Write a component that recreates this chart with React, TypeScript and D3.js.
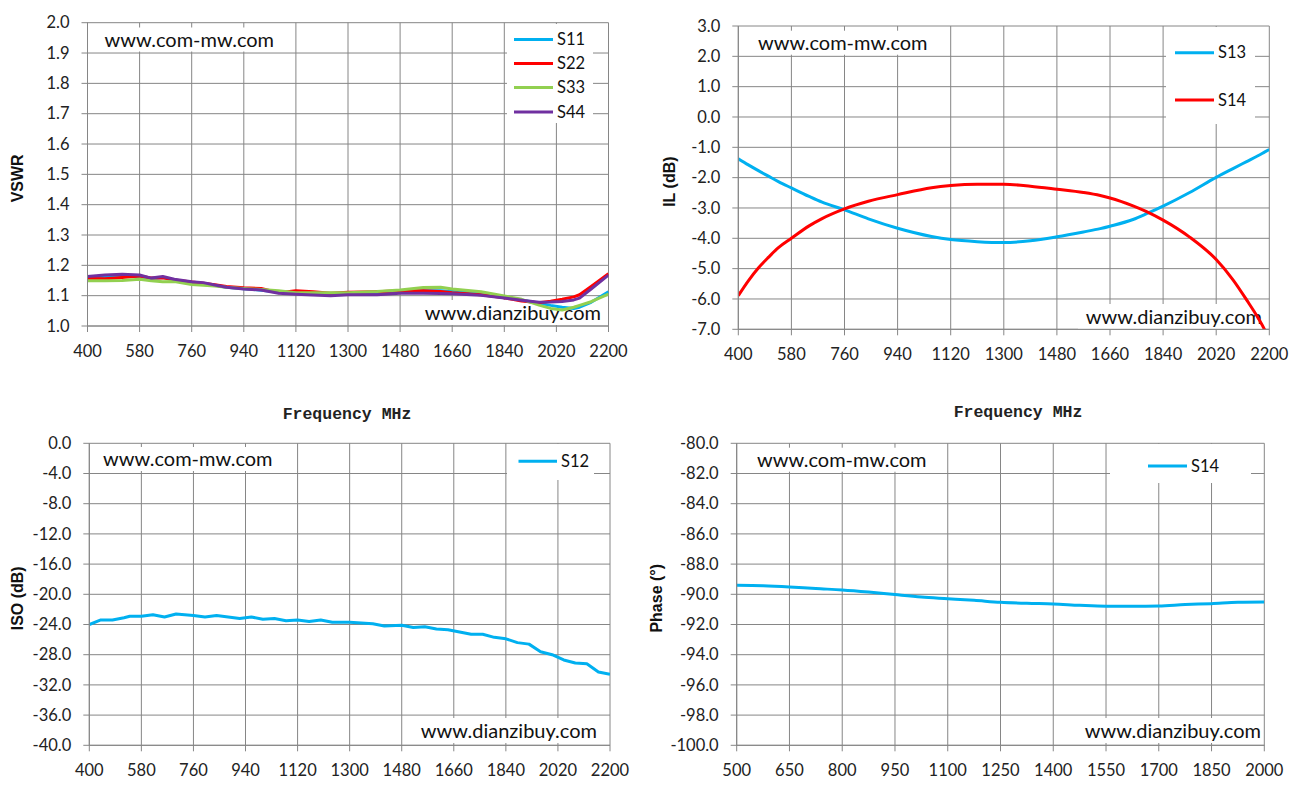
import * as d3 from 'd3'

// ---- data ----
const vswrFreq = [400, 460, 520, 580, 620, 660, 700, 760, 800, 840, 880, 940, 1000, 1060, 1120, 1180, 1240, 1300, 1400, 1480, 1560, 1620, 1660, 1760, 1840, 1900, 1960, 2000, 2040, 2080, 2100, 2140, 2200]
const s11 = [1.160, 1.162, 1.164, 1.163, 1.156, 1.160, 1.152, 1.143, 1.140, 1.134, 1.128, 1.123, 1.118, 1.112, 1.110, 1.108, 1.106, 1.108, 1.110, 1.114, 1.116, 1.116, 1.114, 1.106, 1.096, 1.086, 1.075, 1.068, 1.062, 1.058, 1.062, 1.078, 1.113]
const s22 = [1.157, 1.156, 1.160, 1.165, 1.158, 1.159, 1.152, 1.145, 1.141, 1.136, 1.130, 1.126, 1.124, 1.110, 1.116, 1.113, 1.108, 1.111, 1.113, 1.116, 1.116, 1.114, 1.110, 1.103, 1.093, 1.082, 1.077, 1.082, 1.088, 1.096, 1.103, 1.130, 1.172]
const s33 = [1.149, 1.149, 1.150, 1.154, 1.149, 1.146, 1.147, 1.137, 1.134, 1.132, 1.128, 1.124, 1.120, 1.116, 1.110, 1.110, 1.110, 1.110, 1.114, 1.119, 1.127, 1.128, 1.122, 1.113, 1.099, 1.088, 1.069, 1.058, 1.053, 1.062, 1.068, 1.080, 1.105]
const s44 = [1.163, 1.168, 1.171, 1.168, 1.158, 1.163, 1.154, 1.146, 1.143, 1.135, 1.128, 1.122, 1.119, 1.108, 1.105, 1.102, 1.100, 1.103, 1.103, 1.108, 1.108, 1.107, 1.106, 1.101, 1.092, 1.085, 1.078, 1.079, 1.081, 1.086, 1.092, 1.122, 1.168]

const ilFreq = [400, 434, 468, 502, 536, 580, 640, 684, 760, 841, 940, 1055, 1120, 1210, 1300, 1390, 1480, 1570, 1627, 1660, 1738, 1784, 1840, 1930, 2020, 2077, 2123, 2163, 2185, 2200]
const s13 = [-1.38, -1.58, -1.77, -1.95, -2.13, -2.34, -2.62, -2.81, -3.06, -3.36, -3.67, -3.94, -4.04, -4.11, -4.14, -4.08, -3.95, -3.79, -3.68, -3.60, -3.38, -3.19, -2.94, -2.49, -1.99, -1.70, -1.47, -1.27, -1.15, -1.07]
const s14il = [-5.89, -5.40, -4.98, -4.63, -4.31, -4.00, -3.59, -3.35, -3.03, -2.78, -2.56, -2.33, -2.26, -2.22, -2.22, -2.28, -2.38, -2.49, -2.59, -2.67, -2.93, -3.12, -3.40, -3.96, -4.70, -5.37, -6.03, -6.64, -7.03, -7.35]

const isoFreq = [400, 440, 480, 520, 540, 580, 620, 660, 700, 760, 800, 840, 880, 920, 960, 1000, 1040, 1080, 1120, 1160, 1200, 1240, 1300, 1340, 1380, 1420, 1480, 1520, 1560, 1600, 1640, 1680, 1720, 1760, 1800, 1840, 1880, 1920, 1960, 2000, 2040, 2080, 2120, 2160, 2200]
const s12 = [-24.0, -23.4, -23.4, -23.1, -22.9, -22.9, -22.7, -23.0, -22.6, -22.8, -23.0, -22.8, -23.0, -23.2, -23.0, -23.3, -23.2, -23.5, -23.4, -23.6, -23.4, -23.7, -23.7, -23.8, -23.9, -24.2, -24.1, -24.4, -24.3, -24.6, -24.7, -25.0, -25.3, -25.3, -25.7, -25.9, -26.4, -26.6, -27.6, -28.0, -28.7, -29.1, -29.2, -30.3, -30.6]

const phaseFreq = [500, 575, 650, 725, 800, 875, 950, 1025, 1100, 1175, 1250, 1325, 1400, 1475, 1550, 1625, 1700, 1775, 1850, 1925, 2000]
const s14ph = [-89.40, -89.43, -89.51, -89.62, -89.71, -89.85, -90.02, -90.18, -90.29, -90.40, -90.53, -90.60, -90.64, -90.73, -90.79, -90.79, -90.77, -90.68, -90.62, -90.53, -90.51]

const freqTicksA = d3.range(400, 2201, 180)
const freqTicksB = d3.range(500, 2001, 150)
const vswrTicks = d3.range(10, 21).map((d) => d / 10)
const ilTicks = d3.range(-7, 4)
const isoTicks = d3.range(-40, 1, 4)
const phaseTicks = d3.range(-100, -79, 2)

const BLUE = '#00B0F0'
const RED = '#FF0000'
const GREEN = '#92D050'
const PURPLE = '#7030A0'
const GRID = '#868686'
const TXT = "Lato, 'Open Sans', sans-serif"

type Series = { name: string; color: string; x: number[]; y: number[] }
type Box = { x0: number; x1: number; y0: number; y1: number }

function Panel(props: {
  id: string
  plot: Box
  xDomain: [number, number]
  xTicks: number[]
  yDomain: [number, number]
  yTicks: number[]
  yTitle: string
  yTitleX: number
  series: Series[]
  smooth?: boolean
  legend: Box
  legendRows: number[]
  legendLine: [number, number]
  wmTop: [number, number]
  wmBottom: [number, number]
  freqTitle?: [number, number]
}) {
  const { plot, series } = props
  const x = d3.scaleLinear(props.xDomain, [plot.x0, plot.x1])
  const y = d3.scaleLinear(props.yDomain, [plot.y1, plot.y0])
  const lg = props.legend
  return (
    <g>
      <defs>
        <clipPath id={props.id}>
          <rect x={plot.x0} y={plot.y0 - 2} width={plot.x1 - plot.x0} height={plot.y1 - plot.y0 + 2} />
        </clipPath>
      </defs>
      {/* grid */}
      {props.yTicks.map((t) => (
        <line key={'gy' + t} x1={plot.x0 - 6} x2={plot.x1} y1={y(t)} y2={y(t)} stroke={GRID} strokeWidth={1} />
      ))}
      {props.xTicks.map((t) => (
        <line key={'gx' + t} x1={x(t)} x2={x(t)} y1={plot.y0} y2={plot.y1 + 6} stroke={GRID} strokeWidth={1} />
      ))}
      {/* tick labels */}
      {props.yTicks.map((t) => (
        <text key={'ly' + t} x={plot.x0 - 18} y={y(t)} dy="0.35em" textAnchor="end" fontFamily={TXT} fontSize={16.5} fill="#222">
          {t.toFixed(1)}
        </text>
      ))}
      {props.xTicks.map((t) => (
        <text key={'lx' + t} x={x(t)} y={plot.y1 + 25} dy="0.35em" textAnchor="middle" fontFamily={TXT} fontSize={16.5} fill="#222">
          {t}
        </text>
      ))}
      <text
        transform={`translate(${props.yTitleX},${(plot.y0 + plot.y1) / 2 + 4}) rotate(-90)`}
        textAnchor="middle"
        dy="0.35em"
        fontFamily="'Liberation Sans', Arial, sans-serif"
        fontWeight="bold"
        fontSize={16}
        fill="#111"
      >
        {props.yTitle}
      </text>
      {/* watermarks */}
      <rect x={props.wmTop[0] - 2} y={props.wmTop[1] - 12} width={176} height={24} fill="white" />
      <text x={props.wmTop[0]} y={props.wmTop[1]} dy="0.35em" fontFamily={TXT} fontSize={20} fill="#111">
        www.com-mw.com
      </text>
      <rect x={props.wmBottom[0] - 184} y={props.wmBottom[1] - 13} width={186} height={25} fill="white" />
      <text x={props.wmBottom[0]} y={props.wmBottom[1]} dy="0.35em" textAnchor="end" fontFamily={TXT} fontSize={20} fill="#111">
        www.dianzibuy.com
      </text>
      {/* series */}
      <g clipPath={`url(#${props.id})`}>
        {series.map((s) => {
          const l = d3
            .line<number>()
            .x((_, i) => x(s.x[i]))
            .y((d) => y(d))
            .curve(props.smooth ? d3.curveMonotoneX : d3.curveLinear)
          return (
            <path key={s.name + s.color} d={l(s.y) || undefined} fill="none" stroke={s.color} strokeWidth={3} strokeLinejoin="round" />
          )
        })}
      </g>
      {/* axis line */}
      <line x1={plot.x0} x2={plot.x1} y1={plot.y1} y2={plot.y1} stroke={GRID} strokeWidth={1} />
      <line x1={plot.x0} x2={plot.x0} y1={plot.y0} y2={plot.y1} stroke={GRID} strokeWidth={1} />
      {/* legend */}
      <rect x={lg.x0} y={lg.y0} width={lg.x1 - lg.x0} height={lg.y1 - lg.y0} fill="white" />
      {series.map((s, i) => (
        <g key={'lg' + s.name}>
          <line x1={props.legendLine[0]} x2={props.legendLine[1]} y1={props.legendRows[i]} y2={props.legendRows[i]} stroke={s.color} strokeWidth={3} />
          <text x={props.legendLine[1] + 4} y={props.legendRows[i]} dy="0.35em" fontFamily={TXT} fontSize={16.5} fill="#111">
            {s.name}
          </text>
        </g>
      ))}
      {props.freqTitle && (
        <text
          x={props.freqTitle[0]}
          y={props.freqTitle[1]}
          dy="0.35em"
          textAnchor="middle"
          fontFamily="'Liberation Mono', 'DejaVu Sans Mono', monospace"
          fontWeight="bold"
          fontSize={16.5}
          fill="#222"
        >
          Frequency MHz
        </text>
      )}
    </g>
  )
}

export default function App() {
  return (
    <svg width={1297} height={798} style={{ position: 'absolute', left: 0, top: 0, background: 'white' }}>
      <rect width={1297} height={798} fill="white" />
      <Panel
        id="c1"
        plot={{ x0: 87.5, x1: 608.5, y0: 22.7, y1: 326 }}
        xDomain={[400, 2200]}
        xTicks={freqTicksA}
        yDomain={[1.0, 2.0]}
        yTicks={vswrTicks}
        yTitle="VSWR"
        yTitleX={17}
        series={[
          { name: 'S11', color: BLUE, x: vswrFreq, y: s11 },
          { name: 'S22', color: RED, x: vswrFreq, y: s22 },
          { name: 'S33', color: GREEN, x: vswrFreq, y: s33 },
          { name: 'S44', color: PURPLE, x: vswrFreq, y: s44 },
        ]}
        legend={{ x0: 507, x1: 593, y0: 24, y1: 123 }}
        legendRows={[39.5, 63.5, 87.5, 112]}
        legendLine={[514, 553]}
        wmTop={[104.5, 39.5]}
        wmBottom={[601, 313]}
      />
      <Panel
        id="c2"
        plot={{ x0: 738.3, x1: 1269.3, y0: 26, y1: 329.3 }}
        xDomain={[400, 2200]}
        xTicks={freqTicksA}
        yDomain={[-7, 3]}
        yTicks={ilTicks}
        yTitle="IL (dB)"
        yTitleX={669}
        smooth
        series={[
          { name: 'S13', color: BLUE, x: ilFreq, y: s13 },
          { name: 'S14', color: RED, x: ilFreq, y: s14il },
        ]}
        legend={{ x0: 1166, x1: 1255, y0: 27, y1: 124 }}
        legendRows={[52.7, 100]}
        legendLine={[1175, 1214]}
        wmTop={[758, 42.7]}
        wmBottom={[1262, 317]}
        freqTitle={[1018, 411]}
      />
      <Panel
        id="c3"
        plot={{ x0: 89.3, x1: 610, y0: 443.3, y1: 745.3 }}
        xDomain={[400, 2200]}
        xTicks={freqTicksA}
        yDomain={[-40, 0]}
        yTicks={isoTicks}
        yTitle="ISO (dB)"
        yTitleX={17}
        series={[{ name: 'S12', color: BLUE, x: isoFreq, y: s12 }]}
        legend={{ x0: 507, x1: 594, y0: 444, y1: 480 }}
        legendRows={[461.3]}
        legendLine={[518.5, 557]}
        wmTop={[103, 459]}
        wmBottom={[597, 731]}
        freqTitle={[347, 413]}
      />
      <Panel
        id="c4"
        plot={{ x0: 736.7, x1: 1264.3, y0: 443.3, y1: 745.3 }}
        xDomain={[500, 2000]}
        xTicks={freqTicksB}
        yDomain={[-100, -80]}
        yTicks={phaseTicks}
        yTitle="Phase (°)"
        yTitleX={656}
        smooth
        series={[{ name: 'S14', color: BLUE, x: phaseFreq, y: s14ph }]}
        legend={{ x0: 1110, x1: 1251, y0: 444, y1: 483 }}
        legendRows={[466]}
        legendLine={[1148, 1187]}
        wmTop={[757, 459.7]}
        wmBottom={[1261, 731]}
      />
    </svg>
  )
}
